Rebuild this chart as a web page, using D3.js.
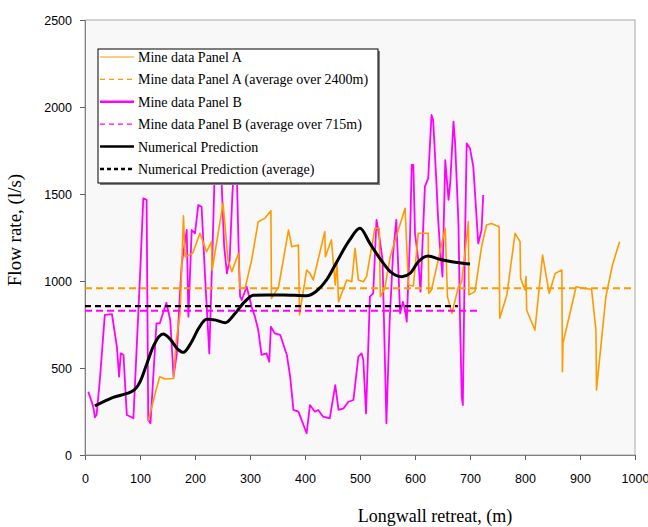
<!DOCTYPE html>
<html>
<head>
<meta charset="utf-8">
<script src="https://cdn.jsdelivr.net/npm/d3@7"></script>
<style>
  html, body { margin: 0; padding: 0; background: #fff; overflow: hidden; }
  svg { display: block; }
  .tick text { font-family: "Liberation Sans", Arial, sans-serif; font-size: 12.5px; fill: #000; }
  .axis-title { font-family: "Liberation Serif", "Times New Roman", serif; font-size: 18px; fill: #000; }
  .y-title { font-size: 19px; }
  .legend text { font-family: "Liberation Serif", "Times New Roman", serif; font-size: 14px; fill: #000; }
</style>
</head>
<body>
<div id="chart"></div>
<script>
// --- Data ---
const xTicks = [0, 100, 200, 300, 400, 500, 600, 700, 800, 900, 1000];
const yTicks = [0, 500, 1000, 1500, 2000, 2500];

// Mine data Panel A (orange)
const panelAX = [115, 130, 136, 145, 161, 166, 173, 179, 182, 196, 209, 221, 230, 231, 251, 260, 267, 279, 282, 291,
  303, 315, 327, 338, 339, 352, 370, 376, 388, 390, 403, 409, 415, 436, 437, 448, 455, 458, 461, 476,
  485, 491, 497, 506, 512, 527, 535, 537, 545, 555, 564, 582, 588, 597, 606, 624, 625, 630, 655, 659,
  667, 679, 685, 697, 698, 709, 721, 730, 739, 753, 754, 767, 782, 791, 792, 800, 802, 803, 818, 832,
  844, 855, 867, 868, 869, 893, 906, 921, 929, 930, 947, 959, 972];
const panelAY = [197, 383, 450, 437, 440, 660, 814, 1374, 1140, 1159, 1274, 1168, 1226, 1060, 1446, 1121, 1054, 1159, 958, 958,
  1121, 1341, 1360, 1404, 900, 967, 1293, 1197, 1207, 805, 1063, 1044, 1006, 1283, 1140, 1236, 977, 1111, 881, 1006,
  996, 1188, 1006, 996, 1025, 1303, 1303, 910, 958, 1140, 1236, 1418, 977, 971, 1274, 1274, 929, 948, 1303, 910,
  814, 967, 996, 1341, 920, 939, 1197, 1322, 1331, 1312, 786, 920, 1274, 1226, 1015, 948, 1025, 833, 718, 1149,
  929, 1044, 1063, 479, 642, 967, 958, 953, 718, 374, 910, 1092, 1226];

// Mine data Panel B (magenta)
const panelBX = [6, 15, 18, 21, 27, 36, 49, 58, 62, 65, 70, 76, 85, 88, 100, 106, 112, 115, 119, 130,
  136, 148, 155, 161, 167, 173, 176, 185, 188, 194, 200, 206, 212, 218, 226, 232, 236, 242, 248, 253,
  258, 263, 268, 272, 276, 280, 282, 285, 294, 303, 309, 315, 321, 330, 335, 338, 345, 355, 367, 373,
  379, 388, 403, 409, 418, 424, 433, 445, 455, 461, 470, 479, 488, 497, 503, 506, 511, 518, 524, 530,
  536, 541, 548, 554, 560, 566, 573, 578, 582, 585, 591, 594, 597, 600, 606, 610, 618, 624, 630, 633,
  639, 642, 645, 650, 655, 661, 664, 670, 673, 679, 682, 685, 687, 691, 694, 700, 706, 715, 721, 724];
const panelBY = [364, 278, 217, 230, 431, 805, 810, 622, 450, 584, 575, 230, 217, 211, 1025, 1475, 1466, 201, 182, 757,
  757, 875, 776, 450, 584, 948, 1102, 1293, 795, 1293, 1274, 1437, 1427, 1044, 584, 1200, 1650, 1720, 1600, 1200,
  1044, 1120, 1500, 1700, 1620, 1100, 910, 891, 967, 852, 795, 718, 575, 584, 536, 737, 699, 690, 575, 450,
  259, 249, 125, 287, 249, 259, 220, 211, 402, 259, 268, 306, 316, 565, 584, 546, 239, 910, 929, 1351,
  1236, 1121, 182, 776, 1150, 1351, 814, 880, 833, 766, 1255, 1667, 1667, 1274, 1121, 939, 1542, 1590, 1954, 1925,
  1561, 1360, 1216, 1025, 1695, 1466, 1561, 1916, 1791, 1331, 757, 335, 287, 1255, 1791, 1762, 1657, 1216, 1293, 1494];

// Numerical prediction (black, smooth)
const predX = [18, 50, 88, 100, 112, 125, 142, 155, 168, 179, 192, 207, 221, 238, 255, 272, 290, 306, 330, 360,
  403, 420, 440, 458, 480, 500, 518, 536, 555, 576, 591, 606, 624, 645, 667, 700];
const predY = [282, 330, 370, 420, 520, 630, 695, 665, 610, 590, 640, 730, 780, 775, 760, 810, 880, 918, 920, 920,
  915, 940, 1010, 1111, 1230, 1303, 1216, 1130, 1054, 1025, 1044, 1111, 1144, 1125, 1111, 1098];

// Averages: [value, start, end]
const avgA = [958, 0, 1000];
const avgB = [829, 0, 720];
const avgPred = [856, 0, 678];

const legendLabels = [
  "Mine data Panel A",
  "Mine data Panel A (average over 2400m)",
  "Mine data Panel B",
  "Mine data Panel B (average over 715m)",
  "Numerical Prediction",
  "Numerical Prediction (average)"
];

// --- Layout ---
const width = 648, height = 527;
const margin = { top: 20, right: 13, bottom: 72, left: 85 };
const innerWidth = width - margin.left - margin.right;
const innerHeight = height - margin.top - margin.bottom;

const ORANGE = "#ff9a00";
const MAGENTA = "#ff00ff";

const svg = d3.select("#chart").append("svg")
  .attr("width", width)
  .attr("height", height);

const g = svg.append("g").attr("transform", `translate(${margin.left},${margin.top})`);

const x = d3.scaleLinear().domain([0, 1000]).range([0, innerWidth]);
const y = d3.scaleLinear().domain([0, 2500]).range([innerHeight, 0]);

// plot area
g.append("rect")
  .attr("width", innerWidth)
  .attr("height", innerHeight)
  .attr("fill", "#f8f8f8")
  .attr("stroke", "#a8a8a8")
  .attr("stroke-width", 1);

// axes
const xAxis = g.append("g")
  .attr("transform", `translate(0,${innerHeight})`)
  .call(d3.axisBottom(x).tickValues(xTicks).tickSize(5).tickPadding(14).tickFormat(d3.format("d")));
const yAxis = g.append("g")
  .call(d3.axisLeft(y).tickValues(yTicks).tickSize(5).tickPadding(8).tickFormat(d3.format("d")));
[xAxis, yAxis].forEach(a => {
  a.select(".domain").attr("stroke", "#808080");
  a.selectAll(".tick line").attr("stroke", "#606060");
});

// axis titles
svg.append("text")
  .attr("class", "axis-title")
  .attr("x", 435)
  .attr("y", 522)
  .attr("text-anchor", "middle")
  .text("Longwall retreat, (m)");

svg.append("text")
  .attr("class", "axis-title y-title")
  .attr("transform", "translate(21,230) rotate(-90)")
  .attr("text-anchor", "middle")
  .text("Flow rate, (l/s)");

// --- Lines ---
const toPts = (xs, ys) => xs.map((d, i) => [d, ys[i]]);
const line = d3.line().x(d => x(d[0])).y(d => y(d[1]));
const smooth = d3.line().x(d => x(d[0])).y(d => y(d[1])).curve(d3.curveMonotoneX);

const plot = g.append("g");

function avgLine(a, color, w, dash) {
  plot.append("line")
    .attr("x1", x(a[1])).attr("x2", x(a[2]))
    .attr("y1", y(a[0])).attr("y2", y(a[0]))
    .attr("stroke", color)
    .attr("stroke-width", w)
    .attr("stroke-dasharray", dash);
}

plot.append("path")
  .datum(toPts(panelBX, panelBY))
  .attr("d", line)
  .attr("fill", "none")
  .attr("stroke", MAGENTA)
  .attr("stroke-width", 1.8)
  .attr("stroke-linejoin", "round");

plot.append("path")
  .datum(toPts(panelAX, panelAY))
  .attr("d", line)
  .attr("fill", "none")
  .attr("stroke", ORANGE)
  .attr("stroke-width", 1.6)
  .attr("stroke-linejoin", "round");

avgLine(avgA, ORANGE, 2, "7,4");
avgLine(avgB, MAGENTA, 2, "7,4");
avgLine(avgPred, "#000", 2.2, "6,4");

plot.append("path")
  .datum(toPts(predX, predY))
  .attr("d", smooth)
  .attr("fill", "none")
  .attr("stroke", "#000")
  .attr("stroke-width", 3);

// --- Legend ---
const legend = svg.append("g").attr("class", "legend").attr("transform", "translate(98,49)");
const lw = 280, lh = 134;
legend.append("rect")
  .attr("x", 2).attr("y", 2)
  .attr("width", lw).attr("height", lh)
  .attr("fill", "#808080");
legend.append("rect")
  .attr("width", lw).attr("height", lh)
  .attr("fill", "#fff")
  .attr("stroke", "#000")
  .attr("stroke-width", 1);

const legendStyles = [
  { color: ORANGE, w: 1.2, dash: null },
  { color: ORANGE, w: 1.2, dash: "5,4" },
  { color: MAGENTA, w: 2.5, dash: null },
  { color: MAGENTA, w: 1.2, dash: "5,4" },
  { color: "#000", w: 2.5, dash: null },
  { color: "#000", w: 2.5, dash: "4,3" }
];

const rows = legend.selectAll("g.row")
  .data(legendLabels)
  .join("g")
  .attr("class", "row")
  .attr("transform", (d, i) => `translate(0,${8 + i * 22.4})`);

rows.append("line")
  .attr("x1", 2).attr("x2", 36)
  .attr("y1", 0).attr("y2", 0)
  .attr("stroke", (d, i) => legendStyles[i].color)
  .attr("stroke-width", (d, i) => legendStyles[i].w)
  .attr("stroke-dasharray", (d, i) => legendStyles[i].dash);

rows.append("text")
  .attr("x", 40)
  .attr("y", 5)
  .text(d => d);
</script>
</body>
</html>
